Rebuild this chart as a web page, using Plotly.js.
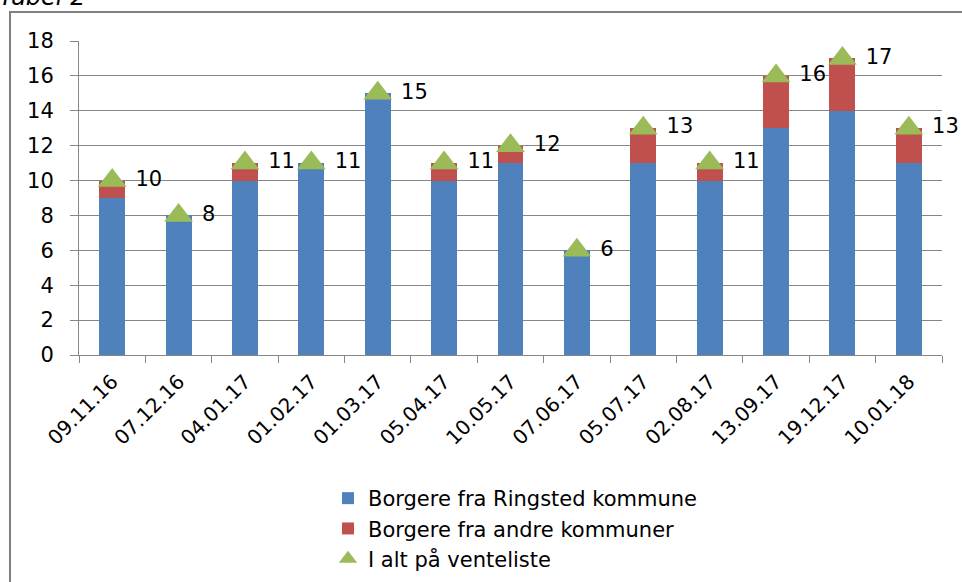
<!DOCTYPE html>
<html>
<head>
<meta charset="utf-8">
<script src="https://cdn.plot.ly/plotly-3.0.1.min.js"></script>
<style>html,body{margin:0;padding:0;background:#fff;}#chart{width:962px;height:582px;}</style>
</head>
<body>
<div id="chart"></div>
<script>
const dates = ["09.11.16","07.12.16","04.01.17","01.02.17","01.03.17","05.04.17","10.05.17","07.06.17","05.07.17","02.08.17","13.09.17","19.12.17","10.01.18"];
const ringsted = [9,8,10,11,15,10,11,6,11,10,13,14,11];
const andre = [1,0,1,0,0,1,1,0,2,1,3,3,2];
const total = [10,8,11,11,15,11,12,6,13,11,16,17,13];
const seriesNames = ["Borgere fra Ringsted kommune","Borgere fra andre kommuner","I alt på venteliste"];
const yTicks = [0,2,4,6,8,10,12,14,16,18];

const W = 962, H = 582, mL = 79, mR = 20, mT = 41, mB = 227;
const pw = W - mL - mR, ph = H - mT - mB;
const px = x => (x - mL) / pw;
const py = y => (H - mB - y) / ph;

const font = "'DejaVu Sans', 'Noto Sans', sans-serif";

const traces = [
  {type:'bar', x:dates, y:ringsted, name:seriesNames[0], legendgroup:'a', marker:{color:'#4F81BD'}},
  {type:'bar', x:dates, y:andre, name:seriesNames[1], legendgroup:'b', marker:{color:'#C0504D'}},
  {type:'scatter', mode:'markers+text', x:dates, y:total, name:seriesNames[2], legendgroup:'c',
   marker:{symbol:'triangle-up', size:25, color:'#9BBB59'},
   text: total.map(v => ' ' + v), textposition:'middle right',
   textfont:{size:21, color:'#000', family:font}, cliponaxis:false}
];

const layout = {
  width:W, height:H, barmode:'stack', bargap:0.61,
  margin:{l:mL, r:mR, t:mT, b:mB, pad:0, autoexpand:false},
  paper_bgcolor:'#fff', plot_bgcolor:'#fff',
  font:{family:font, color:'#000'},
  showlegend:true,
  legend:{x:px(328), y:py(478), xanchor:'left', yanchor:'top', orientation:'v',
    font:{size:21, family:font}, traceorder:'normal', tracegroupgap:1, itemwidth:30},
  xaxis:{type:'category', range:[-0.5, dates.length - 0.5], tickangle:-45, tickson:'boundaries',
    ticks:'outside', ticklen:7, ticklabelstandoff:6, automargin:false,
    tickcolor:'#868686', showline:true, linecolor:'#868686', linewidth:1,
    tickfont:{size:20, family:font}, showgrid:false, fixedrange:true},
  yaxis:{range:[0,18], tickvals:yTicks, ticks:'outside', ticklen:8, tickcolor:'#868686',
    ticklabelstandoff:12, automargin:false,
    showline:true, linecolor:'#868686', linewidth:1, gridcolor:'#868686', gridwidth:1,
    tickfont:{size:21, family:font}, zeroline:false, fixedrange:true},
  shapes:[{type:'rect', xref:'paper', yref:'paper', x0:px(10), x1:px(1000), y0:py(620), y1:py(12),
    line:{color:'#7f7f7f', width:2}, fillcolor:'rgba(0,0,0,0)', layer:'below'}],
  annotations:[{xref:'paper', yref:'paper', x:px(-3), y:py(13), xanchor:'left', yanchor:'bottom',
    text:'<i>Tabel 2</i>', showarrow:false, font:{size:24, family:font, color:'#000'}}]
};

Plotly.newPlot('chart', traces, layout, {displayModeBar:false, staticPlot:true});
</script>
</body>
</html>
